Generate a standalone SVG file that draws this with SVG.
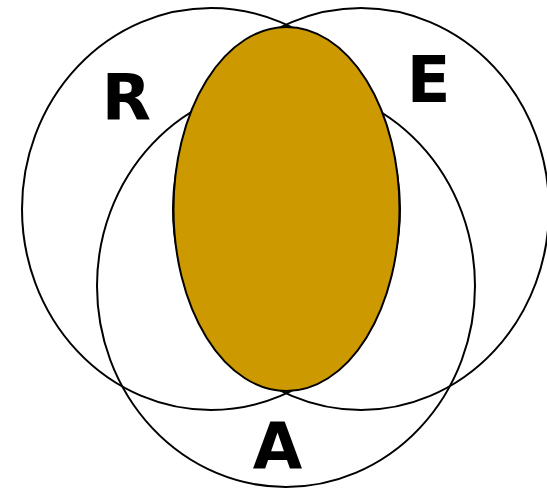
<svg xmlns="http://www.w3.org/2000/svg" width="547" height="490" viewBox="0 0 547 490">
<style>
.set{fill:none;stroke:#000;stroke-width:2}
.core{fill:#CC9900;stroke:#000;stroke-width:2}
.lbl{font-family:"DejaVu Sans",sans-serif;font-weight:bold;font-size:64px;text-anchor:middle;fill:#000}
</style>
<rect width="547" height="490" fill="#fff"/>
<g id="R"><ellipse class="set" cx="211" cy="209" rx="189" ry="201"/><text class="lbl" x="126.5" y="120">R</text></g>
<g id="E"><ellipse class="set" cx="361" cy="209" rx="188" ry="201"/><text class="lbl" x="428.5" y="102">E</text></g>
<g id="A"><ellipse class="set" cx="286" cy="286" rx="189" ry="201"/><text class="lbl" x="277.5" y="469">A</text></g>
<g id="core"><ellipse class="core" cx="286.5" cy="209" rx="113" ry="182"/></g>
<g id="connectors"/>
</svg>
